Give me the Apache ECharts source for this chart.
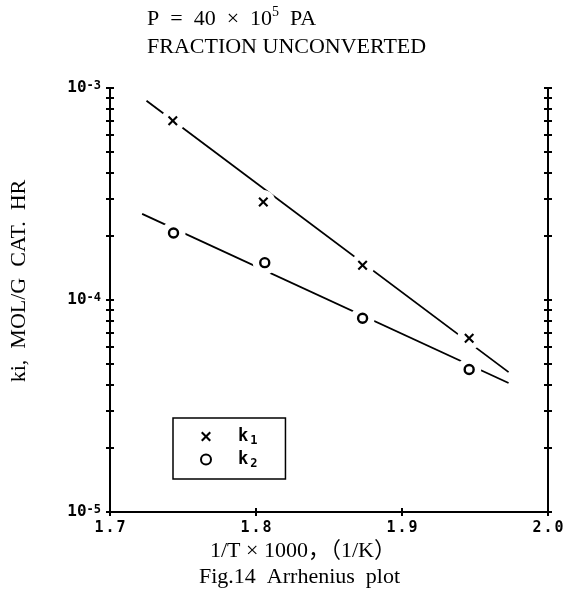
<!DOCTYPE html>
<html><head><meta charset="utf-8">
<script src="https://cdn.jsdelivr.net/npm/echarts@6/dist/echarts.min.js"></script>
<style>html,body{margin:0;padding:0;background:#fff}#c{width:578px;height:590px}</style>
</head><body><div id="c"></div>
<script>
// ---- data ----
const k1X = [1.743, 1.805, 1.873, 1.946];
const k1Y = [7.0e-4, 2.9e-4, 1.46e-4, 6.6e-5];
const k2X = [1.7435, 1.806, 1.873, 1.946];
const k2Y = [2.07e-4, 1.5e-4, 8.2e-5, 4.7e-5];
const fit1X = [1.725, 1.973];
const fit1Y = [8.7e-4, 4.57e-5];
const fit2X = [1.722, 1.973];
const fit2Y = [2.55e-4, 4.06e-5];
const xTickLabels = ['1.7', '1.8', '1.9', '2.0'];
const yLabelValues = [1e-5, 1e-4, 1e-3];
const yLabelExp = ['-5', '-4', '-3'];
const yTickValues = [1e-5, 2e-5, 3e-5, 4e-5, 5e-5, 6e-5, 7e-5, 8e-5, 9e-5,
                     1e-4, 2e-4, 3e-4, 4e-4, 5e-4, 6e-4, 7e-4, 8e-4, 9e-4, 1e-3];

const zip = (xs, ys) => xs.map((x, i) => [x, ys[i]]);
const XPATH = 'path://M0,1.5L1.5,0L5,3.5L8.5,0L10,1.5L6.5,5L10,8.5L8.5,10L5,6.5L1.5,10L0,8.5L3.5,5Z';
const MONO = 'DejaVu Sans Mono';
const SERIF = 'Liberation Serif';

function yAxisDef(pos, inside, withLabels) {
  return {
    type: 'log', logBase: 10, min: 1e-5, max: 1e-3, position: pos,
    axisLine: { show: !inside, onZero: false, lineStyle: { color: '#000', width: 2 } },
    axisTick: { show: true, inside: inside, length: 4, customValues: yTickValues,
                lineStyle: { color: '#000', width: 2 } },
    minorTick: { show: false },
    splitLine: { show: false },
    axisLabel: withLabels ? {
      show: true, margin: 9, customValues: yLabelValues,
      formatter: function (v) {
        const i = yLabelValues.findIndex(t => Math.abs(t - v) / t < 1e-6);
        return '{b|10}{s|' + (i >= 0 ? yLabelExp[i] : '') + '}';
      },
      rich: {
        b: { fontFamily: MONO, fontWeight: 'bold', fontSize: 16, color: '#000',
             padding: [7, 0, 0, 0], verticalAlign: 'bottom', lineHeight: 16 },
        s: { fontFamily: MONO, fontWeight: 'bold', fontSize: 12, color: '#000',
             verticalAlign: 'top', lineHeight: 12 }
      }
    } : { show: false },
    name: withLabels ? 'ki,  MOL/G  CAT.  HR' : '',
    nameLocation: 'middle', nameGap: 80,
    nameTextStyle: { fontFamily: SERIF, fontSize: 22, color: '#000', padding: [0, 0, 0, 38] }
  };
}
function xAxisDef(inside, withLabels) {
  return {
    type: 'value', min: 1.7, max: 2.0, interval: 0.1, position: 'bottom',
    axisLine: { show: !inside, onZero: false, lineStyle: { color: '#000', width: 2 } },
    axisTick: { show: true, inside: inside, length: 4, lineStyle: { color: '#000', width: 2 } },
    splitLine: { show: false },
    axisLabel: withLabels ? {
      show: true, margin: 9,
      formatter: function (v, i) {
        const s = xTickLabels[i] || '';
        return '{a|' + s[0] + '}{d|.}{a|' + s[2] + '}';
      },
      rich: {
        a: { fontFamily: MONO, fontWeight: 'bold', fontSize: 15, color: '#000' },
        d: { fontFamily: MONO, fontWeight: 'bold', fontSize: 15, color: '#000', padding: [0, 2, 0, 2] }
      }
    } : { show: false }
  };
}

const chart = echarts.init(document.getElementById('c'), null, { renderer: 'canvas' });
chart.setOption({
  backgroundColor: '#fff',
  animation: false,
  title: [
    { text: '{a|P  =  40  ×  10}{s|5}{a|  PA}', left: 147, top: 5, padding: 0,
      textStyle: { fontWeight: 'normal', rich: {
        a: { fontFamily: SERIF, fontSize: 22, fontWeight: 'normal', color: '#000', verticalAlign: 'bottom', lineHeight: 25 },
        s: { fontFamily: SERIF, fontSize: 14, fontWeight: 'normal', color: '#000', verticalAlign: 'top', lineHeight: 14 } } } },
    { text: 'FRACTION UNCONVERTED', left: 147, top: 36, padding: 0,
      textStyle: { fontFamily: SERIF, fontSize: 22, fontWeight: 'normal', color: '#000' } },
    { text: '1/T × 1000，（1/K）', left: 210, top: 540, padding: 0,
      textStyle: { fontFamily: SERIF + ', Noto Sans CJK JP', fontSize: 22, fontWeight: 'normal', color: '#000' } },
    { text: 'Fig.14  Arrhenius  plot', left: 199, top: 566, padding: 0,
      textStyle: { fontFamily: SERIF, fontSize: 22, fontWeight: 'normal', color: '#000' } }
  ],
  grid: { left: 107, right: 30, top: 88, bottom: 78, containLabel: false },
  xAxis: [xAxisDef(false, true), xAxisDef(true, false)],
  yAxis: [yAxisDef('left', false, true), yAxisDef('left', true, false),
          yAxisDef('right', false, false), yAxisDef('right', true, false)],
  legend: {
    left: 173, top: 418, orient: 'vertical',
    data: [{ name: 'k1', icon: XPATH }, { name: 'k2', icon: 'circle' }],
    itemWidth: 10, itemHeight: 10, itemGap: 4,
    borderColor: '#000', borderWidth: 1.5, borderRadius: 0,
    padding: [10, 28, 9, 27],
    selectedMode: false,
    formatter: function (n) { return '{k|k}{s|' + n.slice(1) + '}'; },
    textStyle: { rich: {
      k: { fontFamily: MONO, fontWeight: 'bold', fontSize: 17, color: '#000', padding: [0, 0, 0, 22] },
      s: { fontFamily: MONO, fontWeight: 'bold', fontSize: 12, color: '#000', padding: [9, 0, 0, 2] } } }
  },
  series: [
    { name: 'fit1', type: 'line', z: 2, data: zip(fit1X, fit1Y), showSymbol: false, symbol: 'none',
      lineStyle: { color: '#000', width: 1.8 }, silent: true },
    { name: 'fit2', type: 'line', z: 2, data: zip(fit2X, fit2Y), showSymbol: false, symbol: 'none',
      lineStyle: { color: '#000', width: 1.8 }, silent: true },
    { name: 'gap1', type: 'scatter', z: 5, data: zip(k1X, k1Y), symbol: 'circle', symbolSize: 24,
      itemStyle: { color: '#fff', opacity: 1 }, silent: true },
    { name: 'gap2', type: 'scatter', z: 5, data: zip(k2X, k2Y), symbol: 'circle', symbolSize: 24,
      itemStyle: { color: '#fff', opacity: 1 }, silent: true },
    { name: 'k1', type: 'scatter', z: 6, data: zip(k1X, k1Y), symbol: XPATH, symbolSize: 10,
      itemStyle: { color: '#000', opacity: 1 } },
    { name: 'k2', type: 'scatter', z: 6, data: zip(k2X, k2Y), symbol: 'circle', symbolSize: 9,
      itemStyle: { color: '#fff', borderColor: '#000', borderWidth: 2.4, opacity: 1 } }
  ]
});
</script></body></html>
